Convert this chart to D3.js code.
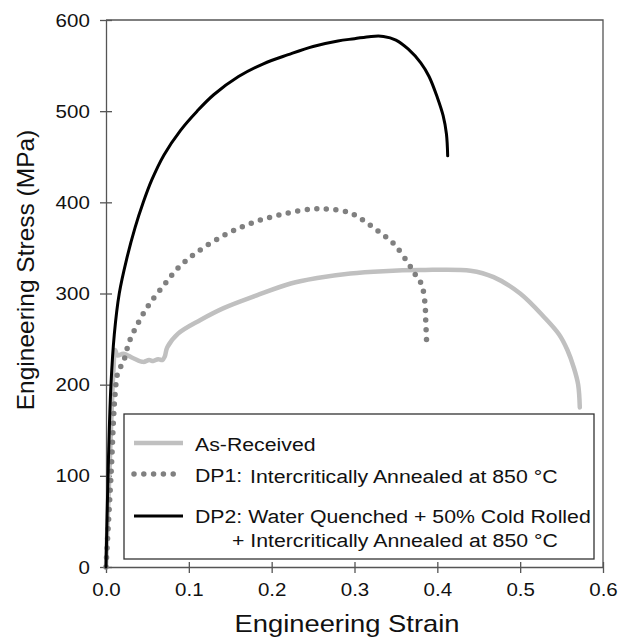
<!DOCTYPE html>
<html>
<head>
<meta charset="utf-8">
<script src="https://cdn.jsdelivr.net/npm/d3@7"></script>
<style>
  body { margin: 0; background: #fff; }
  svg text { font-family: "Liberation Sans", Arial, sans-serif; fill: #111; }
</style>
</head>
<body>
<div id="chart"></div>
<script>
// --------------------------------------
//  Data
// --------------------------------------

const arStrain = [0, 0.004, 0.009, 0.011, 0.014, 0.021, 0.033, 0.045, 0.052, 0.057, 0.063, 0.068, 0.071, 0.074, 0.087, 0.114, 0.142, 0.182, 0.223, 0.255, 0.295, 0.335, 0.38, 0.44, 0.468, 0.5, 0.529, 0.547, 0.557, 0.565, 0.570, 0.572];
const arStress = [0, 100, 216, 238, 232, 234, 229, 225, 227, 226, 228, 227, 231, 241, 256, 271, 284, 298, 311, 317, 322, 324.5, 325.7, 325, 318, 300, 274, 255, 238, 218, 200, 175];

const dp1Strain = [0, 0.006, 0.011, 0.0145, 0.021, 0.028, 0.039, 0.052, 0.069, 0.088, 0.111, 0.145, 0.178, 0.213, 0.247, 0.270, 0.293, 0.311, 0.329, 0.348, 0.365, 0.374, 0.381, 0.385, 0.386, 0.387];
const dp1Stress = [0, 100, 190, 214, 225, 247, 268, 288, 308, 329, 346, 365, 378, 387, 392.5, 392.5, 389, 380, 368, 354, 333, 320, 310, 290, 270, 248];

const dp2Strain = [0, 0.003, 0.006, 0.010, 0.016, 0.025, 0.035, 0.045, 0.055, 0.07, 0.09, 0.11, 0.13, 0.16, 0.19, 0.22, 0.25, 0.28, 0.30, 0.32, 0.335, 0.35, 0.365, 0.38, 0.39, 0.40, 0.407, 0.411, 0.4125];
const dp2Stress = [0, 120, 200, 255, 300, 338, 372, 400, 424, 452, 479, 500, 518, 538, 552, 562, 571, 577, 579.5, 582, 582, 578, 568, 553, 538, 515, 495, 475, 451];

const xTicks = [0, 0.1, 0.2, 0.3, 0.4, 0.5, 0.6];
const yTicks = [0, 100, 200, 300, 400, 500, 600];

const legendNames = ["As-Received", "DP1:", "DP2: Water Quenched + 50% Cold Rolled"];
const legendNotes = ["", "Intercritically Annealed at 850 °C", "+ Intercritically Annealed at 850 °C"];

// --------------------------------------
//  Margin and canvas
// --------------------------------------

const width = 629;
const height = 638;
const margin = {top: 20, right: 26, bottom: 71, left: 106};
const innerwidth = width - margin.left - margin.right;
const innerheight = height - margin.top - margin.bottom;

// the original text is a little wider than the font draws it
const stretch = 1.12;

const svg = d3.select("#chart")
  .append("svg")
    .attr("width", width)
    .attr("height", height);

const innerChart = svg.append("g")
    .attr("transform", `translate(${margin.left}, ${margin.top})`);

// --------------------------------------
//  Scales
// --------------------------------------

const x = d3.scaleLinear().domain([0, 0.6]).range([0, innerwidth]);
const y = d3.scaleLinear().domain([0, 600]).range([innerheight, 0]);

// --------------------------------------
//  Axes and frame
// --------------------------------------

const axisColor = "#555";

const xAxis = innerChart.append("g")
    .attr("transform", `translate(0, ${innerheight})`)
    .call(d3.axisBottom(x).tickValues(xTicks).tickFormat(d3.format(".1f"))
      .tickSizeInner(6).tickSizeOuter(0).tickPadding(10));
xAxis.selectAll(".tick line").attr("y1", -5);

const yAxis = innerChart.append("g")
    .call(d3.axisLeft(y).tickValues(yTicks).tickFormat(d3.format("d"))
      .tickSizeInner(6).tickSizeOuter(0).tickPadding(9));
yAxis.selectAll(".tick line").attr("x1", 6);

innerChart.selectAll(".domain").attr("stroke", axisColor).attr("stroke-width", 1.3);
innerChart.selectAll(".tick line").attr("stroke", axisColor).attr("stroke-width", 1.3);
innerChart.selectAll(".tick text")
    .style("font-size", "19px")
    .style("font-family", "'Liberation Sans', Arial, sans-serif")
    .attr("fill", "#111")
    .attr("transform", "scale(1.08, 1)");

// top and right edges of the frame
innerChart.append("path")
    .attr("d", `M0,0H${innerwidth}V${innerheight}`)
    .attr("fill", "none")
    .attr("stroke", axisColor)
    .attr("stroke-width", 1.3);

svg.append("text")
    .attr("transform", "translate(347, 632) scale(1.14, 1)")
    .attr("text-anchor", "middle")
    .style("font-size", "24px")
    .text("Engineering Strain");

svg.append("text")
    .attr("transform", "translate(34, 270) rotate(-90)")
    .attr("text-anchor", "middle")
    .style("font-size", "24.5px")
    .text("Engineering Stress (MPa)");

// --------------------------------------
//  Data drawing
// --------------------------------------

const line = d3.line()
    .x(d => x(d[0]))
    .y(d => y(d[1]))
    .curve(d3.curveCatmullRom.alpha(0.5));

const series = [
  {pts: d3.zip(arStrain, arStress), color: "#c0c0c0", w: 4.5, dash: null},
  {pts: d3.zip(dp1Strain, dp1Stress), color: "#808080", w: 5.5, dash: "0 9.6"},
  {pts: d3.zip(dp2Strain, dp2Stress), color: "#000", w: 3, dash: null}
];

innerChart.selectAll(".curve")
  .data(series)
  .join("path")
    .attr("class", "curve")
    .attr("d", d => line(d.pts))
    .attr("fill", "none")
    .attr("stroke", d => d.color)
    .attr("stroke-width", d => d.w)
    .attr("stroke-linecap", "round")
    .attr("stroke-dasharray", d => d.dash);

// --------------------------------------
//  Legend
// --------------------------------------

const legend = svg.append("g");

legend.append("rect")
    .attr("x", 124).attr("y", 414)
    .attr("width", 470).attr("height", 145)
    .attr("fill", "#fff")
    .attr("stroke", "#333")
    .attr("stroke-width", 1.3);

const rowY = [443, 474, 516];
const rowText = [451, 482, 523];

legend.selectAll(".sym")
  .data(series)
  .join("line")
    .attr("x1", 134).attr("x2", 183)
    .attr("y1", (d, i) => rowY[i]).attr("y2", (d, i) => rowY[i])
    .attr("stroke", d => d.color)
    .attr("stroke-width", (d, i) => i === 1 ? 5.5 : d.w)
    .attr("stroke-linecap", d => d.dash ? "round" : "butt")
    .attr("stroke-dasharray", d => d.dash ? "0 9.8" : null);

legend.selectAll(".name")
  .data(legendNames)
  .join("text")
    .attr("transform", (d, i) => `translate(195, ${rowText[i]}) scale(${stretch}, 1)`)
    .style("font-size", "19px")
    .text(d => d);

legend.append("text")
    .attr("transform", `translate(250, 483) scale(${stretch}, 1)`)
    .style("font-size", "19px")
    .text(legendNotes[1]);

legend.append("text")
    .attr("transform", `translate(232, 547) scale(${stretch}, 1)`)
    .style("font-size", "19px")
    .text(legendNotes[2]);
</script>
</body>
</html>
